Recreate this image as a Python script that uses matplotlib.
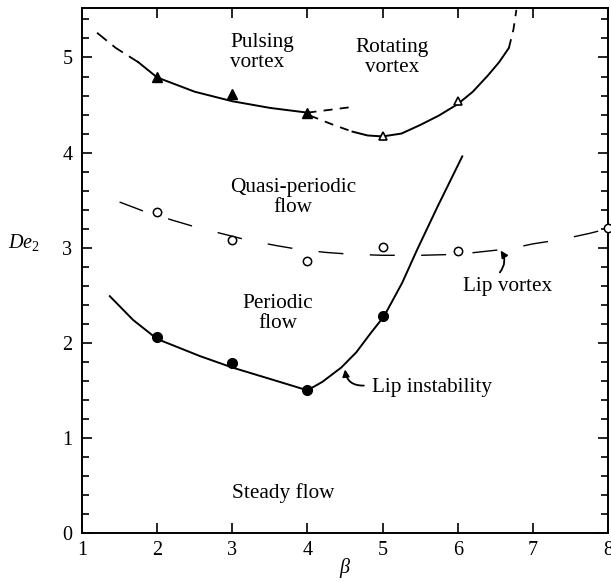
"""
Flow regime map De_2 vs beta.
"""
import matplotlib.pyplot as plt
from matplotlib.ticker import MultipleLocator

plt.rcParams['font.family'] = ['Liberation Serif', 'DejaVu Serif']
plt.rcParams['mathtext.fontset'] = 'custom'
plt.rcParams['mathtext.rm'] = 'Liberation Serif'
plt.rcParams['mathtext.it'] = 'Liberation Serif:italic'

# measured points
beta_pulsing = [2, 3, 4]
de_pulsing = [4.79, 4.62, 4.42]
beta_rotating = [5, 6]
de_rotating = [4.17, 4.54]
beta_quasi = [2, 3, 4, 5, 6, 8]
de_quasi = [3.38, 3.08, 2.86, 3.01, 2.96, 3.21]
beta_periodic = [2, 3, 4, 5]
de_periodic = [2.06, 1.79, 1.50, 2.28]

# boundary curves
pulse_dash_x = [1.2, 1.45, 1.75]
pulse_dash_y = [5.26, 5.10, 4.95]
pulse_x = [1.75, 2.0, 2.5, 3.0, 3.5, 4.0]
pulse_y = [4.95, 4.79, 4.64, 4.54, 4.47, 4.42]
pulse_ext_x = [4.0, 4.3, 4.6]
pulse_ext_y = [4.42, 4.45, 4.48]

rot_dash_x = [4.03, 4.35, 4.6]
rot_dash_y = [4.39, 4.29, 4.22]
rot_x = [4.6, 4.8, 5.0, 5.25, 5.5, 5.75, 6.0, 6.2, 6.4, 6.55, 6.68]
rot_y = [4.22, 4.18, 4.17, 4.20, 4.29, 4.39, 4.51, 4.64, 4.81, 4.95, 5.10]
rot_top_x = [6.68, 6.74, 6.78]
rot_top_y = [5.10, 5.29, 5.50]

lipv_x = [1.5, 1.8, 2.2, 2.5, 2.9, 3.2, 3.6, 3.9, 4.25, 4.6, 5.0, 5.5,
          6.0, 6.35, 6.7, 7.0, 7.4, 7.75, 8.0]
lipv_y = [3.48, 3.39, 3.29, 3.22, 3.14, 3.08, 3.02, 2.98, 2.95, 2.93, 2.92,
          2.92, 2.93, 2.96, 2.99, 3.04, 3.09, 3.15, 3.20]

lipi_x = [1.37, 1.68, 2.0, 2.57, 3.0, 3.46, 4.0, 4.2, 4.45, 4.65, 4.84,
          5.02, 5.26, 5.46, 5.73, 6.06]
lipi_y = [2.49, 2.24, 2.04, 1.86, 1.74, 1.63, 1.50, 1.59, 1.74, 1.90, 2.10,
          2.28, 2.63, 2.98, 3.43, 3.96]

fig = plt.figure(figsize=(6.11, 5.82), dpi=100)
ax = fig.add_axes([0.1342, 0.0842, 0.861, 0.902])

lw = 1.4
ax.plot(pulse_dash_x, pulse_dash_y, color='black', lw=1.3, dashes=(7, 4))
ax.plot(pulse_x, pulse_y, color='black', lw=lw)
ax.plot(pulse_ext_x, pulse_ext_y, color='black', lw=1.3, dashes=(5, 4))
ax.plot(rot_dash_x, rot_dash_y, color='black', lw=1.3, dashes=(5, 4))
ax.plot(rot_x, rot_y, color='black', lw=lw)
ax.plot(rot_top_x, rot_top_y, color='black', lw=1.3, dashes=(5, 4))
ax.plot(lipv_x, lipv_y, color='black', lw=1.0, dashes=(18, 19))
ax.plot(lipi_x, lipi_y, color='black', lw=lw)

ax.plot(beta_pulsing, de_pulsing, '^', color='black', ms=7)
ax.plot(beta_rotating, de_rotating, '^', mfc='white', mec='black', mew=1.2, ms=6)
ax.plot(beta_quasi, de_quasi, 'o', mfc='white', mec='black', mew=1.1, ms=6,
        clip_on=False, zorder=3)
ax.plot(beta_periodic, de_periodic, 'o', color='black', ms=7)

fs = 14.5
fs_lab = 15.3
ax.text(2.97, 5.05, 'Pulsing\nvortex', fontsize=fs_lab, ha='left', va='center',
        linespacing=1.1)
ax.text(5.12, 5.0, 'Rotating\nvortex', fontsize=fs_lab, ha='center', va='center',
        linespacing=1.1)
ax.text(3.81, 3.53, 'Quasi-periodic\nflow', fontsize=fs_lab, ha='center',
        va='center', linespacing=1.1)
ax.text(3.6, 2.31, 'Periodic\nflow', fontsize=fs_lab, ha='center', va='center',
        linespacing=1.1)
ax.text(3.68, 0.42, 'Steady flow', fontsize=fs_lab, ha='center', va='center')
ax.text(6.66, 2.59, 'Lip vortex', fontsize=fs_lab, ha='center', va='center')
ax.text(5.66, 1.53, 'Lip instability', fontsize=fs_lab, ha='center', va='center')

ax.annotate('', xy=(6.57, 2.97), xytext=(6.56, 2.74),
            arrowprops=dict(arrowstyle='-|>', color='black', lw=1.3,
                            mutation_scale=10, shrinkA=0, shrinkB=0,
                            connectionstyle='arc3,rad=0.35'))
ax.annotate('', xy=(4.5, 1.72), xytext=(4.75, 1.55),
            arrowprops=dict(arrowstyle='-|>', color='black', lw=1.3,
                            mutation_scale=10, shrinkA=0, shrinkB=0,
                            connectionstyle='arc3,rad=-0.45'))

ax.set_xlim(1, 8)
ax.set_ylim(0, 5.52)
ax.xaxis.set_major_locator(MultipleLocator(1))
ax.yaxis.set_major_locator(MultipleLocator(1))
ax.yaxis.set_minor_locator(MultipleLocator(0.2))
ax.tick_params(which='both', direction='in', top=True, right=True,
               width=1.2, labelsize=fs)
ax.tick_params(which='major', length=7)
ax.tick_params(which='minor', length=5)
ax.tick_params(axis='x', pad=6)
ax.tick_params(axis='y', pad=7)
for sp in ax.spines.values():
    sp.set_linewidth(1.4)

ax.set_xlabel(r'$\beta$', fontsize=fs, labelpad=-3)
fig.text(0.013, 0.5825, r'$De_2$', fontsize=fs, ha='left', va='center')

fig.savefig('out.png', dpi=100)
